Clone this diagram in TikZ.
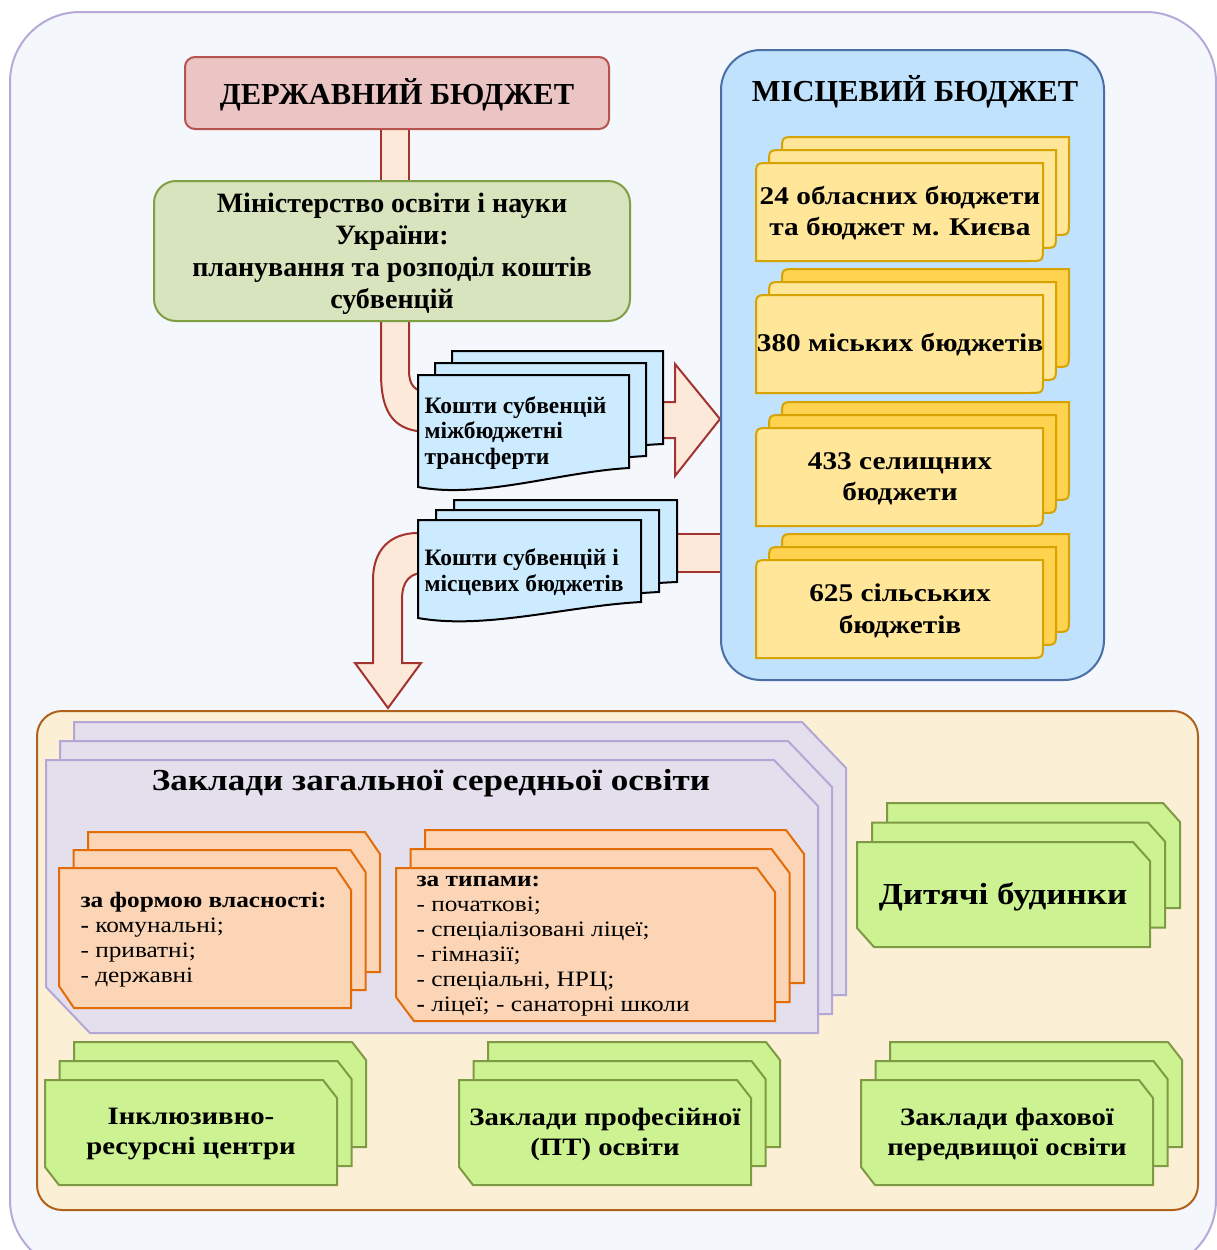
\documentclass[tikz,border=0pt]{standalone}
\usepackage{fontspec}
\setmainfont{Liberation Serif}
\newfontfamily\widefont[FakeStretch=1.15]{Liberation Serif}

\definecolor{pagebg}{HTML}{F4F7FC}
\definecolor{pageline}{HTML}{B7AAD8}
\definecolor{statefill}{HTML}{EBC4C4}
\definecolor{stateline}{HTML}{B85450}
\definecolor{flowfill}{HTML}{FDE9D9}
\definecolor{flowline}{HTML}{A3332F}
\definecolor{minfill}{HTML}{D7E4BD}
\definecolor{minline}{HTML}{7F9F45}
\definecolor{docfill}{HTML}{CCEBFF}
\definecolor{localfill}{HTML}{C0E2FC}
\definecolor{localline}{HTML}{4A6FA5}
\definecolor{ylight}{HTML}{FFE699}
\definecolor{ydark}{HTML}{FFD34F}
\definecolor{yline}{HTML}{D6A300}
\definecolor{instfill}{HTML}{FBF0D5}
\definecolor{instline}{HTML}{B0621C}
\definecolor{lavfill}{HTML}{E4DFEC}
\definecolor{lavline}{HTML}{B4A7D6}
\definecolor{orfill}{HTML}{FBD5B5}
\definecolor{orline}{HTML}{E36C09}
\definecolor{grfill}{HTML}{CCF291}
\definecolor{grline}{HTML}{7F9A45}

% box with cut top-right and bottom-left corners
\newcommand{\chamfbox}[7]{%
  \draw[#1] ({#2},{#3}) -- ({#4-#6},{#3}) -- ({#4},{#3+#7}) -- ({#4},{#5})
    -- ({#2+#6},{#5}) -- ({#2},{#5-#7}) -- cycle;}
% card with rounded top-left and bottom-right corners
\newcommand{\cardbox}[6]{%
  \draw[#1] ({#2},{#5}) -- ({#2},{#3+#6}) .. controls ({#2},{#3}) .. ({#2+#6},{#3})
    -- ({#4},{#3}) -- ({#4},{#5-#6}) .. controls ({#4},{#5}) .. ({#4-#6},{#5}) -- cycle;}
% sheet with wavy bottom
\newcommand{\docbox}[5]{%
  \draw[docsheet] ({#1},{#2}) -- ({#3},{#2}) -- ({#3},{#5})
    .. controls ({#3-0.33*(#3-#1)},{#5+4}) and ({#1+0.3*(#3-#1)},{#4+12}) .. ({#1},{#4}) -- cycle;}

\begin{document}
\begin{tikzpicture}[x=1pt,y=-1pt,
    flow/.style={fill=flowfill,draw=flowline,line width=2},
    docsheet/.style={fill=docfill,draw=black,line width=2},
    ycard/.style={draw=yline,line width=2},
    lav/.style={fill=lavfill,draw=lavline,line width=2},
    orng/.style={fill=orfill,draw=orline,line width=2},
    grn/.style={fill=grfill,draw=grline,line width=2},
    bigtxt/.style={font=\fontsize{30.5}{34}\selectfont\bfseries,align=center},
    midtxt/.style={font=\fontsize{28}{32}\selectfont\bfseries,align=center},
    ytxt/.style={font=\widefont\fontsize{25.5}{31.5}\selectfont\bfseries,align=center},
    doctxt/.style={font=\fontsize{23.5}{25.5}\selectfont\bfseries,align=left,anchor=west},
    listtxt/.style={font=\widefont\fontsize{22}{25}\selectfont,align=left,anchor=west},
    grtxt/.style={font=\widefont\fontsize{25}{30}\selectfont\bfseries,align=center}]
  \useasboundingbox (0,0) rectangle (1217,1250);
  \clip (0,0) rectangle (1217,1250);
  \draw[fill=pagebg,draw=pageline,line width=2,rounded corners=70] (10,12) rectangle (1216,1270);

  % fat arrows
  \draw[flow] (381,125) rectangle (409,185);
  \draw[flow] (381,318) -- (381,373) .. controls (381,415) and (395,432) .. (430,432)
    -- (430,392) .. controls (414,392) and (409,385) .. (409,370) -- (409,318) -- cycle;
  \draw[flow] (650,402) -- (675,402) -- (675,364) -- (720,419) -- (675,476)
    -- (675,438) -- (650,438) -- cycle;
  \draw[flow] (660,534) rectangle (730,572);
  \draw[flow] (430,533) -- (418,533) .. controls (390,533) and (373,550) .. (373,580)
    -- (373,663) -- (355,663) -- (388,708) -- (421,663) -- (402,663) -- (402,600)
    .. controls (402,580) and (410,572) .. (430,572) -- cycle;

  % state and ministry
  \draw[fill=statefill,draw=stateline,line width=2,rounded corners=10] (185,57) rectangle (609,129);
  \node[bigtxt] (state) at (397,95) {ДЕРЖАВНИЙ БЮДЖЕТ};
  \draw[fill=minfill,draw=minline,line width=2,rounded corners=22] (154,181) rectangle (630,321);
  \node[midtxt] (ministry) at (392,254) {Міністерство освіти і науки\\України:\\планування та розподіл коштів\\субвенцій};

  % transfer sheets
  \foreach \k in {2,1,0} {\docbox{418+17*\k}{375-12*\k}{629+17*\k}{487-12*\k}{468-12*\k}}
  \node[doctxt] (transfer) at (421,433) {Кошти субвенцій\\міжбюджетні\\трансферти};
  \foreach \k in {2,1,0} {\docbox{418+18*\k}{520-10*\k}{641+18*\k}{618-10*\k}{602-10*\k}}
  \node[doctxt] (funds) at (421,572) {Кошти субвенцій і\\місцевих бюджетів};

  % local budget
  \draw[fill=localfill,draw=localline,line width=2,rounded corners=40] (721,50) rectangle (1104,680);
  \node[bigtxt] (local) at (915,92) {МІСЦЕВИЙ БЮДЖЕТ};
  \cardbox{ycard,fill=ylight}{782}{137}{1069}{235}{14}
  \cardbox{ycard,fill=ylight}{769}{150}{1056}{248}{14}
  \cardbox{ycard,fill=ylight}{756}{163}{1043}{261}{14}
  \node[ytxt] (oblast) at (900,213) {24 обласних бюджети\\та бюджет м. Києва};
  \cardbox{ycard,fill=ydark}{782}{269}{1069}{367}{14}
  \cardbox{ycard,fill=ylight}{769}{282}{1056}{380}{14}
  \cardbox{ycard,fill=ylight}{756}{295}{1043}{393}{14}
  \node[ytxt] (city) at (900,345) {380 міських бюджетів};
  \cardbox{ycard,fill=ydark}{782}{402}{1069}{500}{14}
  \cardbox{ycard,fill=ydark}{769}{415}{1056}{513}{14}
  \cardbox{ycard,fill=ylight}{756}{428}{1043}{526}{14}
  \node[ytxt] (town) at (900,479) {433 селищних\\бюджети};
  \cardbox{ycard,fill=ydark}{782}{534}{1069}{632}{14}
  \cardbox{ycard,fill=ydark}{769}{547}{1056}{645}{14}
  \cardbox{ycard,fill=ylight}{756}{560}{1043}{658}{14}
  \node[ytxt] (village) at (900,611) {625 сільських\\бюджетів};

  % institutions
  \draw[fill=instfill,draw=instline,line width=2,rounded corners=25] (37,711) rectangle (1198,1210);
  \foreach \k in {2,1,0} {\chamfbox{lav}{46+14*\k}{760-19*\k}{818+14*\k}{1033-19*\k}{44}{46}}
  \node[bigtxt,font=\widefont\fontsize{30.5}{34}\selectfont\bfseries] (school) at (431,783) {Заклади загальної середньої освіти};
  \foreach \k in {2,1,0} {\chamfbox{orng}{59+14.5*\k}{868-18*\k}{351+14.5*\k}{1008-18*\k}{15}{22}}
  \node[listtxt] (owner) at (77,940) {\textbf{за формою власності:}\\\textbf{-} комунальні;\\- приватні;\\- державні};
  \foreach \k in {2,1,0} {\chamfbox{orng}{396+14.5*\k}{868-19*\k}{775+14.5*\k}{1021-19*\k}{18}{24}}
  \node[listtxt] (types) at (413,946) {\textbf{за типами:}\\- початкові;\\- спеціалізовані ліцеї;\\- гімназії;\\- спеціальні, НРЦ;\\\textbf{-} ліцеї; - санаторні школи};
  \foreach \k in {2,1,0} {\chamfbox{grn}{857+15*\k}{842-19.5*\k}{1150+15*\k}{947-19.5*\k}{17}{19}}
  \node[bigtxt,font=\widefont\fontsize{30.5}{34}\selectfont\bfseries] (orphan) at (1003,897) {Дитячі будинки};
  \foreach \x/\nm/\txt in {45/irc/{Інклюзивно-\\ресурсні центри},459/voc/{Заклади професійної\\(ПТ) освіти},861/college/{Заклади фахової\\передвищої освіти}} {
    \foreach \k in {2,1,0} {\chamfbox{grn}{\x+14.5*\k}{1080-19*\k}{\x+292+14.5*\k}{1185-19*\k}{14}{18}}
    \node[grtxt] (\nm) at (\x+146,1134) {\txt};
  }
\end{tikzpicture}
\end{document}
